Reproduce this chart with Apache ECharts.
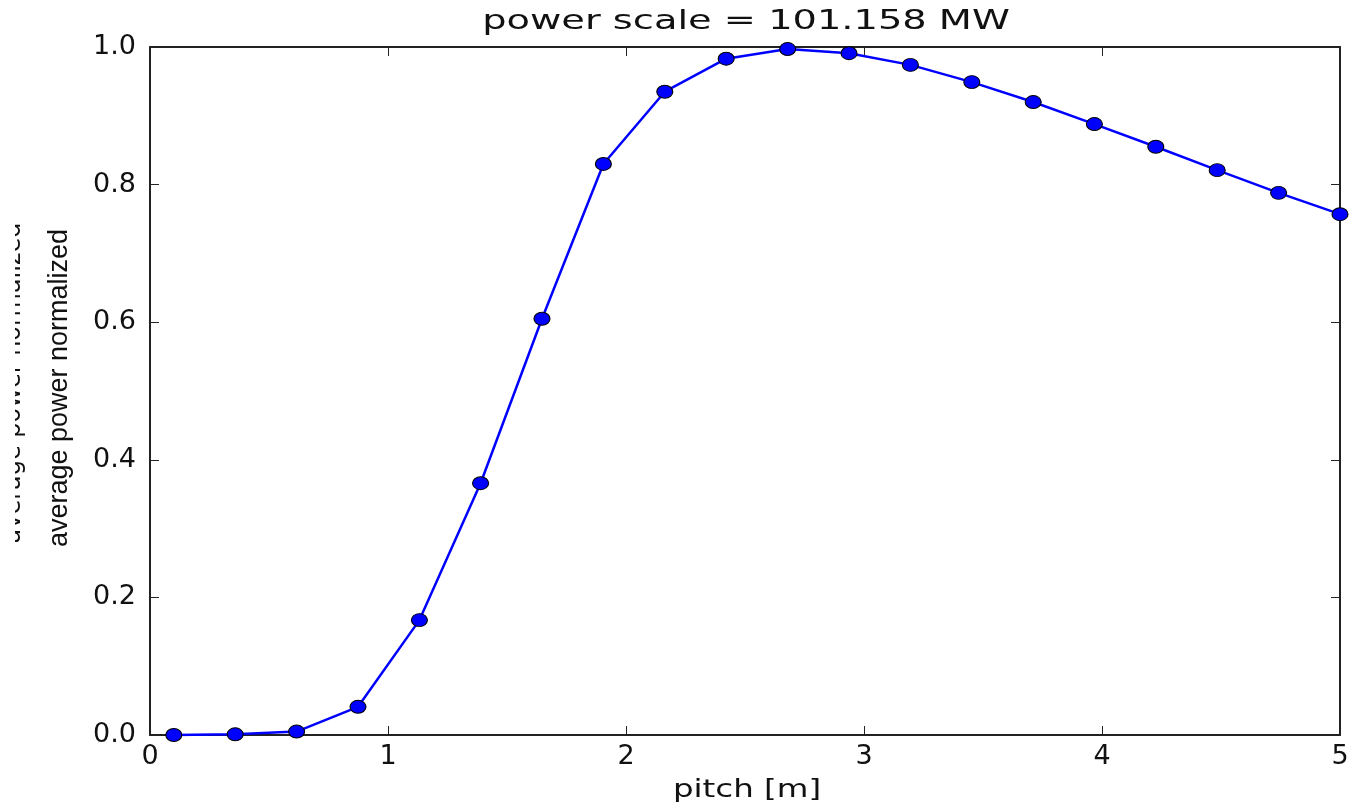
<!DOCTYPE html>
<html>
<head>
<meta charset="utf-8">
<script src="https://cdn.jsdelivr.net/npm/echarts@6/dist/echarts.min.js"></script>
<style>
html, body { margin: 0; padding: 0; background: #fff; }
#chart { width: 1355px; height: 811px; }
</style>
</head>
<body>
<div id="chart"></div>
<script>
// pitch [m]
var pitch = [0.1, 0.358, 0.616, 0.874, 1.132, 1.389, 1.647, 1.905, 2.163, 2.421,
             2.679, 2.937, 3.195, 3.453, 3.711, 3.968, 4.226, 4.484, 4.742, 5.0];
// average power normalized
var power = [0.0, 0.001, 0.005, 0.041, 0.167, 0.366, 0.605, 0.830, 0.935, 0.983,
             0.997, 0.991, 0.974, 0.949, 0.920, 0.888, 0.855, 0.821, 0.788, 0.757];
var xTicks = ['0', '1', '2', '3', '4', '5'];
var yTicks = ['0.0', '0.2', '0.4', '0.6', '0.8', '1.0'];

var chart = echarts.init(document.getElementById('chart'));

var font = 'DejaVu Sans';
var lineCol = '#222';

function xAxis(pos, show) {
  return {
    type: 'value', position: pos, min: 0, max: 5, interval: 1,
    axisLine: { show: true, onZero: false, lineStyle: { color: lineCol, width: 2 } },
    axisTick: { show: true, inside: true, length: 9, lineStyle: { color: lineCol, width: 1 } },
    axisLabel: {
      show: show, margin: 8, color: '#111', fontFamily: font, fontSize: 27,
      formatter: function (v) { return xTicks[Math.round(v)]; }
    },
    splitLine: { show: false }
  };
}
function yAxis(pos, show) {
  return {
    type: 'value', position: pos, min: 0, max: 1, interval: 0.2,
    axisLine: { show: true, onZero: false, lineStyle: { color: lineCol, width: 2 } },
    axisTick: { show: true, inside: true, length: 9, lineStyle: { color: lineCol, width: 1 } },
    axisLabel: {
      show: show, margin: 14, color: '#111', fontFamily: font, fontSize: 27,
      formatter: function (v) { return yTicks[Math.round(v * 5)]; }
    },
    splitLine: { show: false }
  };
}

var data = pitch.map(function (p, i) { return [p, power[i]]; });

var option = {
  backgroundColor: '#fff',
  animation: false,
  grid: { left: 150, right: 15, top: 47, bottom: 76 },
  xAxis: [xAxis('bottom', true), xAxis('top', false)],
  yAxis: [yAxis('left', true), yAxis('right', false)],
  graphic: [
    {
      // title, stretched sideways like the source image
      type: 'text', x: 746, y: 22, scaleX: 1.42, z: 3,
      style: {
        text: 'power scale = 101.158 MW', fill: '#111', font: '27px "DejaVu Sans"',
        textAlign: 'center', textVerticalAlign: 'middle'
      }
    },
    {
      // clipped, overlapping label behind the main one
      type: 'text', x: 26, y: 383, rotation: Math.PI / 2, z: 1,
      style: {
        text: 'average power normalized', fill: '#111',
        font: '24px "DejaVu Sans"', textAlign: 'center', textVerticalAlign: 'bottom'
      }
    },
    {
      type: 'rect', shape: { x: 0, y: 200, width: 15, height: 380 }, z: 2,
      style: { fill: '#fff' }
    },
    {
      type: 'text', x: 73, y: 388, rotation: Math.PI / 2, z: 3,
      style: {
        text: 'average power normalized', fill: '#111',
        font: '27px "Liberation Sans Narrow", "Liberation Sans"',
        textAlign: 'center', textVerticalAlign: 'bottom'
      }
    },
    {
      type: 'text', x: 747, y: 790, scaleX: 1.3, z: 3,
      style: {
        text: 'pitch [m]', fill: '#111', font: '25px "DejaVu Sans"',
        textAlign: 'center', textVerticalAlign: 'middle'
      }
    }
  ],
  series: [{
    type: 'line',
    data: data,
    xAxisIndex: 0, yAxisIndex: 0,
    clip: false,
    symbol: 'circle',
    symbolSize: [16, 13],
    lineStyle: { color: '#0000ff', width: 2.5 },
    itemStyle: { color: '#0000ff', borderColor: '#000', borderWidth: 1 },
    z: 5
  }]
};

chart.setOption(option);
</script>
</body>
</html>
